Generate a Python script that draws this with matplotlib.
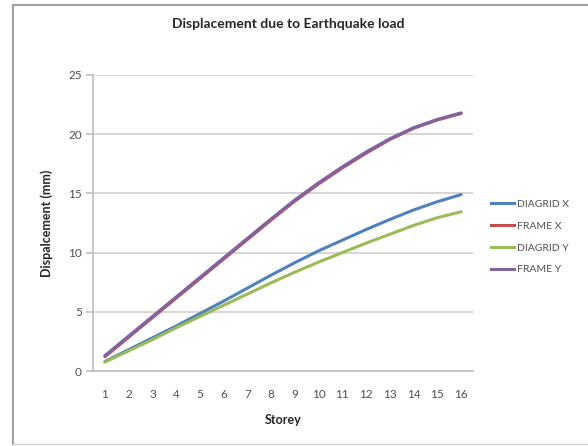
import matplotlib.pyplot as plt
from matplotlib.lines import Line2D

storeys = list(range(1, 17))

diagrid_x = [0.8, 1.8, 2.8, 3.8, 4.85, 5.9, 7.0, 8.1, 9.15, 10.15, 11.05, 11.95, 12.8, 13.6, 14.3, 14.9]
frame_x = [1.2, 2.85, 4.5, 6.15, 7.8, 9.45, 11.1, 12.75, 14.35, 15.8, 17.15, 18.4, 19.55, 20.5, 21.2, 21.75]
diagrid_y = [0.75, 1.7, 2.65, 3.65, 4.6, 5.55, 6.5, 7.45, 8.35, 9.2, 10.0, 10.8, 11.55, 12.3, 12.95, 13.45]
frame_y = [1.3, 2.95, 4.6, 6.25, 7.9, 9.55, 11.2, 12.85, 14.45, 15.9, 17.25, 18.5, 19.62, 20.55, 21.25, 21.8]

series = [
    ("DIAGRID X", diagrid_x, "#4F81BD"),
    ("FRAME X", frame_x, "#C0504D"),
    ("DIAGRID Y", diagrid_y, "#9BBB59"),
    ("FRAME Y", frame_y, "#8064A2"),
]

plt.rcParams["font.family"] = ["Lato", "DejaVu Sans"]

fig = plt.figure(figsize=(5.88, 4.46), dpi=100)
ax = fig.add_axes([93 / 588, 75 / 446, 380 / 588, 296 / 446])

for name, vals, color in series:
    ax.plot(storeys, vals, color=color, linewidth=2.2, label=name,
            solid_capstyle="round", solid_joinstyle="round")

ax.set_xlim(0.5, 16.5)
ax.set_ylim(0, 25)
ax.set_xticks(storeys)
ax.set_yticks(range(0, 26, 5))
ax.grid(axis="y", color="#D0D0D0", linewidth=1.2)
ax.set_axisbelow(True)

for side in ["top", "right"]:
    ax.spines[side].set_visible(False)
for side in ["left", "bottom"]:
    ax.spines[side].set_color("#BDBDBD")
    ax.spines[side].set_linewidth(1.2)

ax.tick_params(axis="y", colors="#BDBDBD", labelcolor="#505050", length=5, width=1.2, labelsize=8.5, pad=3)
ax.tick_params(axis="x", length=0, labelcolor="#505050", labelsize=8.5, pad=13)

ax.set_xlabel("Storey", fontsize=9, fontweight="bold", color="#262626", labelpad=10)
ax.set_ylabel("Dispalcement (mm)", fontsize=9, fontweight="bold", color="#262626", labelpad=11)
fig.text(288 / 588, 1 - 24 / 446, "Displacement due to Earthquake load", ha="center", va="center",
         fontsize=10, fontweight="bold", color="#262626")

handles = [Line2D([], [], color=c, linewidth=2.2) for _, _, c in series]
fig.legend(handles, [n for n, _, _ in series], loc="center left", bbox_to_anchor=(482 / 588, 1 - 237 / 446),
           frameon=False, fontsize=7.5, handlelength=2.2, handletextpad=0.3, labelspacing=1.2,
           labelcolor="#505050")

# chart frame
fig.add_artist(Line2D([13 / 588, 13 / 588], [2 / 446, 1 - 5 / 446], color="#A0A0A0", linewidth=1.5))
fig.add_artist(Line2D([13 / 588, 1], [1 - 5 / 446, 1 - 5 / 446], color="#A0A0A0", linewidth=1.5))
fig.add_artist(Line2D([13 / 588, 1], [2 / 446, 2 / 446], color="#D0D0D0", linewidth=1.0))

fig.savefig("out.png", dpi=100)
